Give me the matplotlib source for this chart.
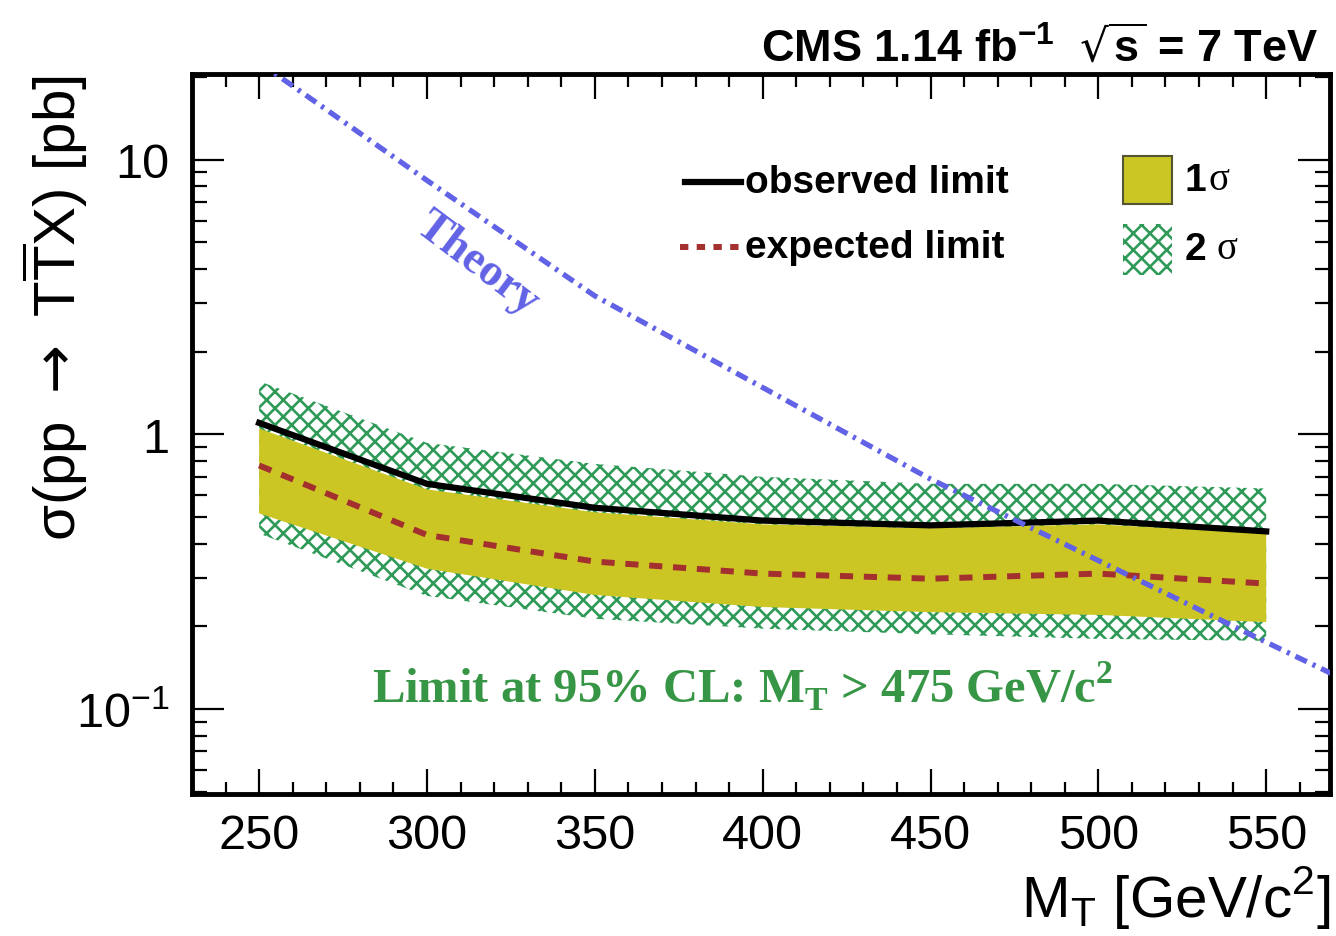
import numpy as np
import matplotlib
matplotlib.use('Agg')
import matplotlib.pyplot as plt
from matplotlib.ticker import MultipleLocator, LogLocator, NullFormatter
from matplotlib.patches import Rectangle

plt.rcParams['font.family'] = ['Liberation Sans', 'DejaVu Sans']
plt.rcParams['hatch.linewidth'] = 1.9

# heavy top partner mass points [GeV/c^2]
mass = [250, 300, 350, 400, 450, 500, 550]
observed = [1.10, 0.66, 0.54, 0.485, 0.466, 0.485, 0.443]
expected = [0.77, 0.43, 0.344, 0.311, 0.298, 0.311, 0.286]
one_sig_lo = [0.515, 0.324, 0.26, 0.235, 0.225, 0.22, 0.207]
one_sig_hi = [1.05, 0.63, 0.52, 0.47, 0.455, 0.47, 0.435]
two_sig_lo = [0.435, 0.258, 0.213, 0.196, 0.187, 0.18, 0.177]
two_sig_hi = [1.56, 0.93, 0.78, 0.70, 0.66, 0.66, 0.635]

theory_mass = [250, 300, 350, 400, 450, 500, 550, 600]
theory_xs = [22.6, 8.4, 3.19, 1.48, 0.687, 0.347, 0.175, 0.089]

yticks = [0.1, 1, 10]
yticklabels = [r'$\mathdefault{10^{-1}}$', '1', '10']

yellow = '#cbc624'
hatch_green = '#2f9a58'
theory_blue = '#6262e6'
exp_red = '#a3302e'
limit_green = '#379646'

fig = plt.figure(figsize=(13.36, 9.37), dpi=100)
ax = fig.add_axes([0.1437, 0.1515, 0.8518, 0.7685])

# 2 sigma band (hatched), then 1 sigma on top
ax.fill_between(mass, two_sig_lo, two_sig_hi, facecolor='white',
                edgecolor=hatch_green, hatch='xx', linewidth=0, zorder=1)
ax.fill_between(mass, one_sig_lo, one_sig_hi, facecolor=yellow,
                edgecolor='none', linewidth=0, zorder=2)
ax.plot(mass, expected, color=exp_red, lw=4.3, dashes=(2.2, 1.8), zorder=3)
ax.plot(mass, observed, color='black', lw=4.5, zorder=4)
ax.plot(theory_mass, theory_xs, color=theory_blue, lw=3.8,
        dashes=(2.4, 1.2, 0.6, 1.2), zorder=5)

ax.set_yscale('log')
ax.set_xlim(230, 569)
ax.set_ylim(0.049, 20.5)

ax.xaxis.set_major_locator(MultipleLocator(50))
ax.xaxis.set_minor_locator(MultipleLocator(10))
ax.set_yticks(yticks)
ax.set_yticklabels(yticklabels)
ax.yaxis.set_minor_locator(LogLocator(base=10, subs=np.arange(2, 10)))
ax.yaxis.set_minor_formatter(NullFormatter())

for s in ax.spines.values():
    s.set_linewidth(3.5)
ax.tick_params(which='both', direction='in', top=True, right=True, width=1.6)
ax.tick_params(axis='x', which='major', length=18, labelsize=35, pad=14)
ax.tick_params(axis='x', which='minor', length=9)
ax.tick_params(axis='y', which='major', length=23, labelsize=35, pad=16)
ax.tick_params(axis='y', which='minor', length=11)

ax.set_xlabel(r'M$_{\mathdefault{T}}$ [GeV/c$^{\mathdefault{2}}$]', fontsize=42,
              loc='right', labelpad=4)
ax.set_ylabel(r'σ(pp $\rightarrow$ T$\overline{\mathdefault{T}}$X) [pb]', fontsize=42,
              loc='top')
ax.yaxis.set_label_coords(-0.09, 1.0)

fig.text(0.9865, 0.934, r'CMS 1.14 fb$^{\mathdefault{-1}}$  $\sqrt{\mathdefault{s}}$ = 7 TeV',
         fontsize=32.5, fontweight='bold', ha='right', va='baseline')

ax.text(315, 4.2, 'Theory', color=theory_blue, fontsize=33, fontweight='bold',
        family='Liberation Serif', rotation=-37, ha='center', va='center',
        rotation_mode='anchor')

ax.text(394, 0.122, r'Limit at 95% CL: M$_{\mathdefault{T}}$ > 475 GeV/c$^{\mathdefault{2}}$',
        color=limit_green, fontsize=35, fontweight='bold', family='Liberation Serif',
        ha='center', va='center')

# legend drawn by hand
tr = ax.transAxes
ax.plot([0.433, 0.482], [0.85, 0.85], color='black', lw=4.5, transform=tr)
ax.text(0.486, 0.85, 'observed limit', fontsize=28, fontweight='bold',
        ha='left', va='center', transform=tr)
ax.plot([0.429, 0.482], [0.76, 0.76], color=exp_red, lw=4.3,
        dashes=(1.4, 1.4), transform=tr)
ax.text(0.486, 0.76, 'expected limit', fontsize=28, fontweight='bold',
        ha='left', va='center', transform=tr)

ax.add_patch(Rectangle((0.818, 0.819), 0.043, 0.067, facecolor=yellow,
                       edgecolor='#555533', lw=1.5, transform=tr))
ax.text(0.872, 0.853, '1', fontsize=28, fontweight='bold', ha='left',
        va='center', transform=tr)
ax.text(0.893, 0.853, 'σ', fontsize=28, family='Liberation Serif',
        ha='left', va='center', transform=tr)
ax.add_patch(Rectangle((0.818, 0.721), 0.043, 0.071, facecolor='white',
                       edgecolor=hatch_green, hatch='xx', lw=0, transform=tr))
ax.text(0.872, 0.757, '2', fontsize=28, fontweight='bold', ha='left',
        va='center', transform=tr)
ax.text(0.900, 0.757, 'σ', fontsize=28, family='Liberation Serif',
        ha='left', va='center', transform=tr)

fig.savefig('out.png', dpi=100)
